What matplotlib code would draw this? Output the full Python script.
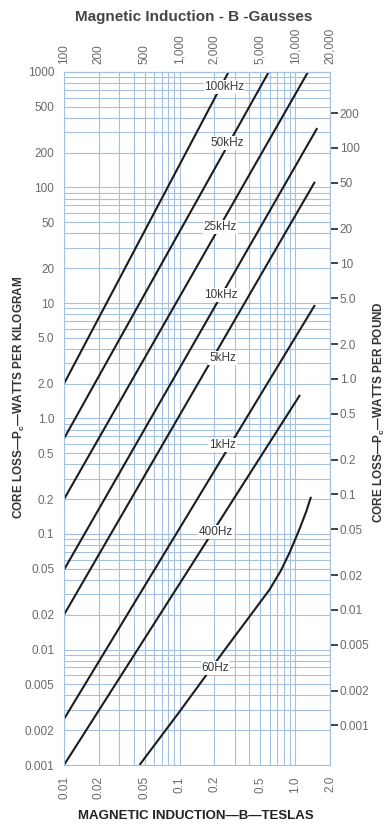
import numpy as np
import matplotlib.pyplot as plt
from matplotlib.ticker import NullFormatter, NullLocator, LogLocator

plt.rcParams['axes.grid'] = False
plt.rcParams['font.family'] = ['Liberation Sans', 'DejaVu Sans']
plt.rcParams['mathtext.fontset'] = 'custom'
plt.rcParams['mathtext.bf'] = 'Liberation Sans:bold'
plt.rcParams['mathtext.rm'] = 'Liberation Sans'

# core loss curves, B in tesla, P in W/kg
freqs = ['100kHz', '50kHz', '25kHz', '10kHz', '5kHz', '1kHz', '400Hz', '60Hz']
b_100k = [0.01, 0.265]
p_100k = [2.0, 1000]
b_50k = [0.01, 0.59]
p_50k = [0.67, 1000]
b_25k = [0.01, 1.29]
p_25k = [0.2, 1000]
b_10k = [0.01, 1.55]
p_10k = [0.049, 327]
b_5k = [0.01, 1.48]
p_5k = [0.02, 112]
b_1k = [0.01, 1.48]
p_1k = [0.0025, 9.6]
b_400 = [0.01, 1.10]
p_400 = [0.001, 1.6]
b_60 = [0.045, 0.1, 0.245, 0.45, 0.6, 0.75, 0.9, 1.1, 1.25, 1.37]
p_60 = [0.001, 0.0029, 0.0099, 0.0224, 0.033, 0.048, 0.07, 0.113, 0.158, 0.21]

# where the curve names sit
label_b = [0.245, 0.26, 0.226, 0.226, 0.235, 0.235, 0.205, 0.205]
label_p = [741, 243, 45.5, 11.7, 3.34, 0.59, 0.104, 0.0069]

tesla_ticks = [0.01, 0.02, 0.05, 0.1, 0.2, 0.5, 1.0, 2.0]
tesla_labels = ['0.01', '0.02', '0.05', '0.1', '0.2', '0.5', '1.0', '2.0']
gauss_ticks = [100, 200, 500, 1000, 2000, 5000, 10000, 20000]
gauss_labels = ['100', '200', '500', '1,000', '2,000', '5,000', '10,000', '20,000']
kg_ticks = [1000, 500, 200, 100, 50, 20, 10, 5, 2, 1, 0.5, 0.2, 0.1, 0.05, 0.02,
            0.01, 0.005, 0.002, 0.001]
kg_labels = ['1000', '500', '200', '100', '50', '20', '10', '5.0', '2.0', '1.0', '0.5',
             '0.2', '0.1', '0.05', '0.02', '0.01', '0.005', '0.002', '0.001']
lb_ticks = [200, 100, 50, 20, 10, 5, 2, 1, 0.5, 0.2, 0.1, 0.05, 0.02, 0.01, 0.005,
            0.002, 0.001]
lb_labels = ['200', '100', '50', '20', '10', '5.0', '2.0', '1.0', '0.5', '0.2', '0.1',
             '0.05', '0.02', '0.01', '0.005', '0.002', '0.001']
kg_per_lb = 2.2046
gauss_per_tesla = 1e4

gridc = '#a4c2e0'
tickc = '#6a6a6a'

fig = plt.figure(figsize=(3.85, 8.3), dpi=100)
ax = fig.add_axes([64/385, 1 - 765/830, 266/385, 693/830])

curves = [(b_100k, p_100k), (b_50k, p_50k), (b_25k, p_25k), (b_10k, p_10k),
          (b_5k, p_5k), (b_1k, p_1k), (b_400, p_400), (b_60, p_60)]
for b, p in curves:
    ax.plot(b, p, color='#1c1c1c', lw=1.5, solid_capstyle='butt', solid_joinstyle='round')

for s, b, p in zip(freqs, label_b, label_p):
    ax.text(b, p, s, ha='center', va='center', fontsize=8.5, color='#3a3a3a',
            bbox=dict(fc='white', ec='none', pad=0.6), zorder=4)

ax.set_xscale('log')
ax.set_yscale('log')
ax.set_xlim(0.01, 2.0)
ax.set_ylim(0.001, 1000)
ax.set_xticks(tesla_ticks)
ax.set_xticklabels(tesla_labels, rotation=90)
ax.set_yticks(kg_ticks)
ax.set_yticklabels(kg_labels)
ax.xaxis.set_minor_locator(LogLocator(subs=range(2, 10)))
ax.yaxis.set_minor_locator(LogLocator(subs=range(2, 10)))
ax.xaxis.set_minor_formatter(NullFormatter())
ax.yaxis.set_minor_formatter(NullFormatter())
ax.tick_params(which='both', length=0, labelsize=8.5, labelcolor=tickc)
ax.tick_params(axis='x', pad=8)
ax.tick_params(axis='y', pad=7)
ax.grid(True, which='both', color=gridc, lw=0.8)
for sp in ax.spines.values():
    sp.set_color(gridc)

# top axis in gauss
axt = ax.secondary_xaxis('top', functions=(lambda b: b * gauss_per_tesla,
                                          lambda g: g / gauss_per_tesla))
axt.set_xticks(gauss_ticks)
axt.set_xticklabels(gauss_labels, rotation=90)
axt.xaxis.set_minor_locator(NullLocator())
axt.tick_params(which='both', length=0, labelsize=8.5, labelcolor=tickc, pad=6)
axt.spines['top'].set_color(gridc)

# right axis in watts per pound
axr = ax.secondary_yaxis('right', functions=(lambda p: p / kg_per_lb,
                                            lambda q: q * kg_per_lb))
axr.set_yticks(lb_ticks)
axr.set_yticklabels(lb_labels)
axr.yaxis.set_minor_locator(NullLocator())
axr.tick_params(axis='y', which='major', length=6, width=1.3, color='#333333',
                labelsize=8.5, labelcolor=tickc, pad=1)
axr.spines['right'].set_color(gridc)

fig.text(194/385, 1 - 17/830, 'Magnetic Induction - B -Gausses', ha='center', va='center',
         fontsize=11, fontweight='bold', color='#444444')
fig.text(196/385, 1 - 816/830, 'MAGNETIC INDUCTION\u2014B\u2014TESLAS', ha='center',
         va='center', fontsize=9.5, fontweight='bold', color='#222222')
fig.text(19/385, 1 - 397/830, 'CORE LOSS\u2014$\\mathbf{P_c}$\u2014WATTS PER KILOGRAM',
         rotation=90, ha='center', va='center', fontsize=8.5, fontweight='bold',
         color='#333333')
fig.text(379/385, 1 - 412/830, 'CORE LOSS\u2014$\\mathbf{P_c}$\u2014WATTS PER POUND',
         rotation=90, ha='center', va='center', fontsize=8.5, fontweight='bold',
         color='#333333')

fig.savefig('out.png', dpi=100)
